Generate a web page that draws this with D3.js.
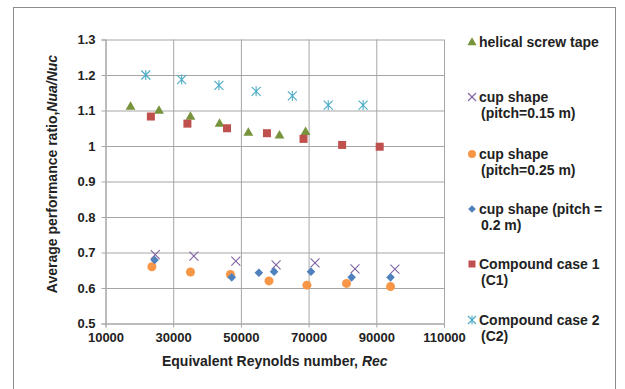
<!DOCTYPE html>
<html>
<head>
<meta charset="utf-8">
<script src="https://cdn.jsdelivr.net/npm/d3@7"></script>
<style>
  body { margin: 0; background: #fff; }
  text { font-family: "Liberation Sans", Arial, sans-serif; font-weight: bold; fill: #222; }
</style>
</head>
<body>
<svg id="chart" width="625" height="389"></svg>
<script>
// data
const helicalRe = [17400, 25800, 35100, 43700, 52200, 61400, 69100];
const helicalRatio = [1.110, 1.099, 1.082, 1.062, 1.037, 1.029, 1.039];

const cup015Re = [24700, 36100, 48500, 60400, 71900, 83700, 95500];
const cup015Ratio = [0.694, 0.690, 0.676, 0.665, 0.671, 0.654, 0.653];

const cup025Re = [23700, 35100, 46900, 58300, 69500, 81200, 94200];
const cup025Ratio = [0.660, 0.645, 0.638, 0.620, 0.608, 0.613, 0.604];

const cup02Re = [24500, 47300, 55300, 59800, 70700, 82700, 94200];
const cup02Ratio = [0.679, 0.630, 0.643, 0.646, 0.646, 0.630, 0.630];

const c1Re = [23400, 34200, 45900, 57700, 68500, 79900, 91000];
const c1Ratio = [1.083, 1.063, 1.050, 1.036, 1.020, 1.003, 0.998];

const c2Re = [21900, 32500, 43500, 54500, 65200, 75800, 86100];
const c2Ratio = [1.200, 1.187, 1.171, 1.154, 1.141, 1.115, 1.115];

const xTicks = [10000, 30000, 50000, 70000, 90000, 110000];
const yTicks = [0.5, 0.6, 0.7, 0.8, 0.9, 1.0, 1.1, 1.2, 1.3];

const series = [
  { name: ["helical screw tape"], re: helicalRe, val: helicalRatio, color: "#77933C", shape: "triangle" },
  { name: ["cup shape", "(pitch=0.15 m)"], re: cup015Re, val: cup015Ratio, color: "#8064A2", shape: "x" },
  { name: ["cup shape", "(pitch=0.25 m)"], re: cup025Re, val: cup025Ratio, color: "#F79646", shape: "circle" },
  { name: ["cup shape (pitch =", "0.2 m)"], re: cup02Re, val: cup02Ratio, color: "#4F81BD", shape: "diamond" },
  { name: ["Compound case 1", "(C1)"], re: c1Re, val: c1Ratio, color: "#C0504D", shape: "square" },
  { name: ["Compound case 2", "(C2)"], re: c2Re, val: c2Ratio, color: "#4BACC6", shape: "star" }
];

const svg = d3.select("#chart");
const margin = { left: 105.5, right: 181, top: 39.5, bottom: 65.5 };
const W = 625, H = 389;

// outer frame
svg.append("rect")
  .attr("x", 13.5).attr("y", 7.5)
  .attr("width", 602).attr("height", 390)
  .attr("fill", "none").attr("stroke", "#8c8c8c").attr("stroke-width", 1);

const x = d3.scaleLinear().domain([10000, 110000]).range([margin.left, W - margin.right]);
const y = d3.scaleLinear().domain([0.5, 1.3]).range([H - margin.bottom, margin.top]);

// grid
svg.append("g")
  .attr("transform", `translate(${margin.left},0)`)
  .call(d3.axisLeft(y).tickValues(yTicks).tickSize(-(x.range()[1] - x.range()[0])).tickFormat(""))
  .call(g => g.select(".domain").remove())
  .call(g => g.selectAll("line").attr("stroke", "#a6a6a6"));
svg.append("g")
  .attr("transform", `translate(0,${H - margin.bottom})`)
  .call(d3.axisBottom(x).tickValues(xTicks).tickSize(-(y.range()[0] - y.range()[1])).tickFormat(""))
  .call(g => g.select(".domain").remove())
  .call(g => g.selectAll("line").attr("stroke", "#a6a6a6"));

// axes with small outward ticks
svg.append("g")
  .attr("transform", `translate(${margin.left},0)`)
  .call(d3.axisLeft(y).tickValues(yTicks).tickSize(4).tickPadding(6).tickFormat(d => d === 1 ? "1" : d3.format(".1f")(d)))
  .call(g => g.select(".domain").attr("stroke", "#a6a6a6"))
  .call(g => g.selectAll("line").attr("stroke", "#a6a6a6"))
  .call(g => g.selectAll("text").style("font-size", "13px").attr("fill", "#222"));
svg.append("g")
  .attr("transform", `translate(0,${H - margin.bottom})`)
  .call(d3.axisBottom(x).tickValues(xTicks).tickSize(4).tickPadding(5).tickFormat(d3.format("d")))
  .call(g => g.select(".domain").attr("stroke", "#a6a6a6"))
  .call(g => g.selectAll("line").attr("stroke", "#a6a6a6"))
  .call(g => g.selectAll("text").style("font-size", "13px").attr("fill", "#222"));

// axis titles
const xt = svg.append("text")
  .attr("x", (x.range()[0] + x.range()[1]) / 2).attr("y", 366)
  .attr("text-anchor", "middle").style("font-size", "14px");
xt.append("tspan").text("Equivalent Reynolds number, ");
xt.append("tspan").style("font-style", "italic").text("Rec");

const yt = svg.append("text")
  .attr("transform", "translate(57,174) rotate(-90)")
  .attr("text-anchor", "middle").style("font-size", "14px");
yt.append("tspan").text("Average performance ratio,");
yt.append("tspan").style("font-style", "italic").text("Nua/Nuc");

// marker drawing
function marker(g, shape, color, s) {
  if (shape === "triangle") {
    g.append("path").attr("d", d3.symbol(d3.symbolTriangle, s * 5.2)()).attr("fill", color);
  } else if (shape === "square") {
    g.append("rect").attr("x", -s / 2).attr("y", -s / 2).attr("width", s).attr("height", s).attr("fill", color);
  } else if (shape === "circle") {
    g.append("circle").attr("r", s / 2 + 0.5).attr("fill", color);
  } else if (shape === "diamond") {
    const r = s / 2 + 0.3;
    g.append("path").attr("d", `M0,${-r}L${r},0L0,${r}L${-r},0Z`).attr("fill", color);
  } else if (shape === "x") {
    const r = s / 2 + 0.5;
    g.append("path").attr("d", `M${-r},${-r}L${r},${r}M${-r},${r}L${r},${-r}`)
      .attr("stroke", color).attr("stroke-width", 1.1).attr("fill", "none");
  } else if (shape === "star") {
    const r = s / 2 + 0.5;
    g.append("path").attr("d", `M${-r},${-r}L${r},${r}M${-r},${r}L${r},${-r}M0,${-r - 0.5}L0,${r + 0.5}`)
      .attr("stroke", color).attr("stroke-width", 1.1).attr("fill", "none");
  }
}

series.forEach(s => {
  const pts = s.re.map((r, i) => ({ r, v: s.val[i] }));
  svg.append("g").selectAll("g").data(pts).enter().append("g")
    .attr("transform", d => `translate(${x(d.r)},${y(d.v)})`)
    .each(function () { marker(d3.select(this), s.shape, s.color, 8); });
});

// legend
const legendY = [42, 97, 154, 209, 264, 320];
series.forEach((s, i) => {
  const g = svg.append("g").attr("transform", `translate(472,${legendY[i]})`);
  marker(g.append("g").attr("transform", s.shape === "triangle" ? "translate(0,0.5)" : null), s.shape, s.color, 7);
  const t = g.append("text").attr("y", 5).style("font-size", "14px");
  s.name.forEach((line, j) => {
    t.append("tspan").attr("x", j === 0 ? 7 : 9).attr("dy", j === 0 ? 0 : 15.5).text(line);
  });
});
</script>
</body>
</html>
